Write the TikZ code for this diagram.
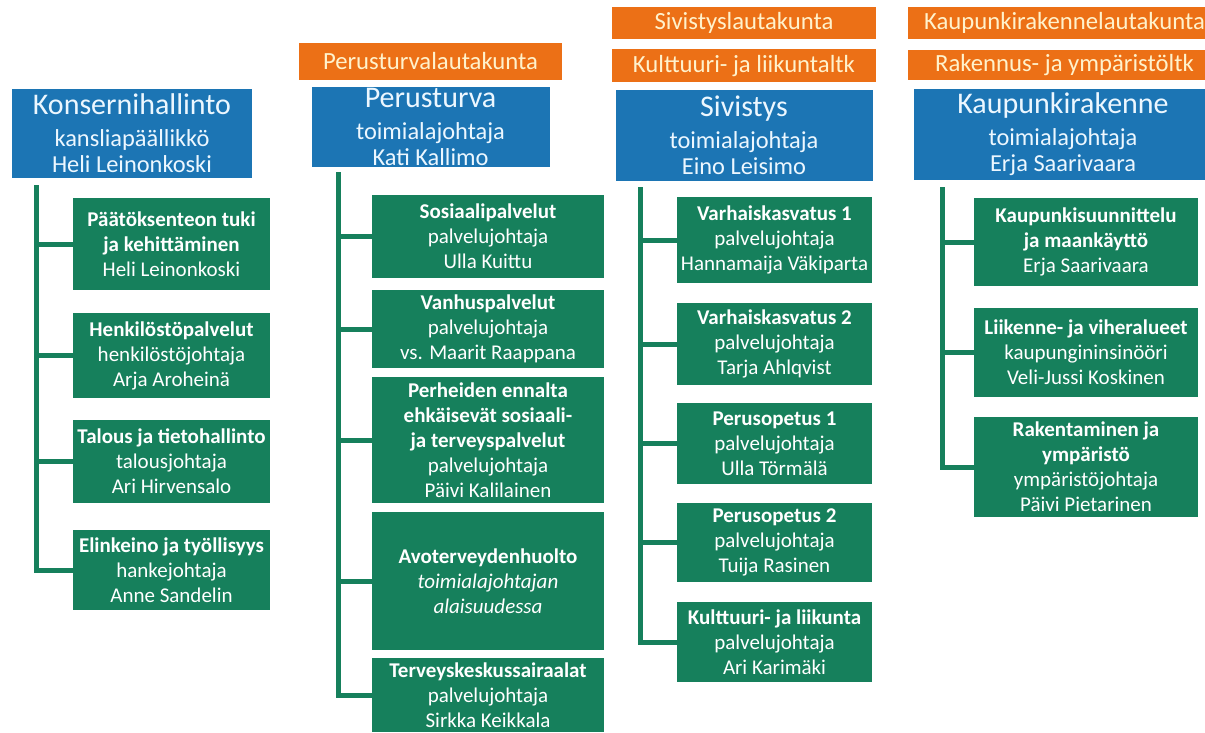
\documentclass[tikz,border=0pt]{standalone}
\usepackage{fontspec}
\setmainfont{Carlito}
\usetikzlibrary{positioning}
\definecolor{orgblue}{RGB}{28,117,180}
\definecolor{orggreen}{RGB}{22,128,92}
\definecolor{orgorange}{RGB}{236,112,22}
\definecolor{cream}{RGB}{255,242,204}
\definecolor{paleblue}{RGB}{236,247,255}
\tikzstyle{every node}+=[inner sep=0.5pt,align=center]
\tikzstyle{lauta}=[fill=orgorange,text=cream,font=\fontsize{24.7}{27}\selectfont]
\tikzstyle{ala}=[fill=orgblue,text=paleblue,font=\fontsize{24.4}{26}\selectfont]
\tikzstyle{yks}=[fill=orggreen,text=white,font=\fontsize{21}{25}\selectfont]
\tikzstyle{branch}=[draw=orggreen,line width=5pt]
\newcommand{\otsikko}[1]{{\fontsize{30}{32}\selectfont #1}\\[6pt]}
\newcommand{\drawbranches}[2]{
	\foreach \b in {#2}{
		\draw[branch] (#1 |- \b.west) -- (\b.west);
	}
}

\begin{document}
\begin{tikzpicture}[x=1pt,y=-1pt]

\path[use as bounding box,fill=white] (0,0) rectangle (1205,732);

\node[lauta,minimum width=263pt,minimum height=37pt] (pl) at (430.5,61.5) {Perusturvalautakunta};
\node[lauta,minimum width=264pt,minimum height=32pt] (sl) at (744,23) {Sivistyslautakunta};
\node[lauta,minimum width=264pt,minimum height=33pt,below=10pt of sl] (kl) {Kulttuuri- ja liikuntaltk};
\node[lauta,minimum width=313pt,minimum height=32pt] (kkl) at (1064.5,23) {Kaupunkirakennelautakunta};
\node[lauta,minimum width=313pt,minimum height=30pt,below=11pt of kkl] (rl) {Rakennus- ja ympäristöltk};

\node[ala,minimum width=240pt,minimum height=89pt] (kh) at (132,133.5) {\otsikko{Konsernihallinto}kansliapäällikkö\\ Heli Leinonkoski};
\node[ala,minimum width=238pt,minimum height=80pt,below=7pt of pl] (pt) {\otsikko{Perusturva}toimialajohtaja\\ Kati Kallimo};
\node[ala,minimum width=257pt,minimum height=91pt,below=7pt of kl] (sv) {\otsikko{Sivistys}toimialajohtaja\\ Eino Leisimo};
\node[ala,minimum width=298pt,minimum height=91pt] (kr) at (1063,134.5) {\otsikko{Kaupunkirakenne}toimialajohtaja\\ Erja Saarivaara};

\node[yks,minimum width=197pt,minimum height=92pt] (k1) at (171.5,244) {\textbf{Päätöksenteon tuki}\\ \textbf{ja kehittäminen}\\ Heli Leinonkoski};
\node[yks,minimum width=197pt,minimum height=85pt] (k2) at (171.5,355.5) {\textbf{Henkilöstöpalvelut}\\ henkilöstöjohtaja\\ Arja Aroheinä};
\node[yks,minimum width=197pt,minimum height=83pt] (k3) at (171.5,461.5) {\textbf{Talous ja tietohallinto}\\ talousjohtaja\\ Ari Hirvensalo};
\node[yks,minimum width=197pt,minimum height=80pt] (k4) at (171.5,570) {\textbf{Elinkeino ja työllisyys}\\ hankejohtaja\\ Anne Sandelin};

\node[yks,minimum width=232pt,minimum height=83pt] (p1) at (488,236.5) {\textbf{Sosiaalipalvelut}\\ palvelujohtaja\\ Ulla Kuittu};
\node[yks,minimum width=232pt,minimum height=78pt] (p2) at (488,329) {\textbf{Vanhuspalvelut}\\ palvelujohtaja\\ vs. Maarit Raappana};
\node[yks,minimum width=232pt,minimum height=126pt] (p3) at (488,440) {\textbf{Perheiden ennalta}\\ \textbf{ehkäisevät sosiaali-}\\ \textbf{ja terveyspalvelut}\\ palvelujohtaja\\ Päivi Kalilainen};
\node[yks,minimum width=232pt,minimum height=138pt] (p4) at (488,581) {\textbf{Avoterveydenhuolto}\\ \textit{toimialajohtajan}\\ \textit{alaisuudessa}};
\node[yks,minimum width=232pt,minimum height=74pt] (p5) at (488,695) {\textbf{Terveyskeskussairaalat}\\ palvelujohtaja\\ Sirkka Keikkala};

\node[yks,minimum width=195pt,minimum height=86pt] (s1) at (774.5,240) {\textbf{Varhaiskasvatus 1}\\ palvelujohtaja\\ Hannamaija Väkiparta};
\node[yks,minimum width=195pt,minimum height=82pt] (s2) at (774.5,344) {\textbf{Varhaiskasvatus 2}\\ palvelujohtaja\\ Tarja Ahlqvist};
\node[yks,minimum width=195pt,minimum height=81pt] (s3) at (774.5,443.5) {\textbf{Perusopetus 1}\\ palvelujohtaja\\ Ulla Törmälä};
\node[yks,minimum width=195pt,minimum height=79pt] (s4) at (774.5,542.5) {\textbf{Perusopetus 2}\\ palvelujohtaja\\ Tuija Rasinen};
\node[yks,minimum width=195pt,minimum height=80pt] (s5) at (774.5,642) {\textbf{Kulttuuri- ja liikunta}\\ palvelujohtaja\\ Ari Karimäki};

\node[yks,minimum width=224pt,minimum height=88pt] (r1) at (1086,242) {\textbf{Kaupunkisuunnittelu}\\ \textbf{ja maankäyttö}\\ Erja Saarivaara};
\node[yks,minimum width=224pt,minimum height=89pt] (r2) at (1086,352.5) {\textbf{Liikenne- ja viheralueet}\\ kaupungininsinööri\\ Veli-Jussi Koskinen};
\node[yks,minimum width=224pt,minimum height=100pt] (r3) at (1086,467) {\textbf{Rakentaminen ja}\\ \textbf{ympäristö}\\ ympäristöjohtaja\\ Päivi Pietarinen};

\coordinate (t1) at (36,185);
\coordinate (t2) at (338,172);
\coordinate (t3) at (640,187);
\coordinate (t4) at (942,187);

\draw[branch] (t1) |- (k4.west);
\draw[branch] (t2) |- (p5.west);
\draw[branch] (t3) |- (s5.west);
\draw[branch] (t4) |- (r3.west);

\drawbranches{t1}{k1,k2,k3}
\drawbranches{t2}{p1,p2,p3,p4}
\drawbranches{t3}{s1,s2,s3,s4}
\drawbranches{t4}{r1,r2}

\end{tikzpicture}
\end{document}
